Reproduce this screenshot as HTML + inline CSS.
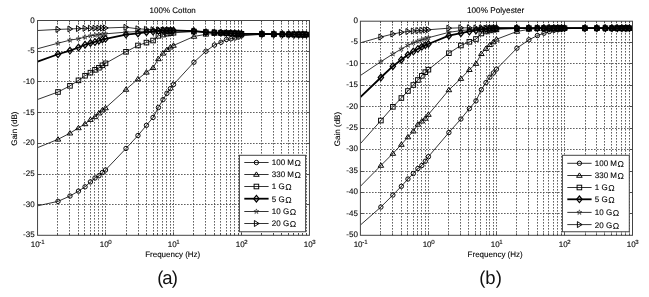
<!DOCTYPE html>
<html><head><meta charset="utf-8"><title>Gain vs Frequency</title>
<style>
html,body{margin:0;padding:0;background:#fff;}
svg{display:block;}
text{font-family:"Liberation Sans",sans-serif;fill:#000;stroke:#000;stroke-width:0.1;text-rendering:geometricPrecision;}
.tl{font-size:8px;}
.tl8{font-size:8px;}
.tl82{font-size:8.2px;}
.ex{font-size:6.1px;}
.om{font-size:8.6px;stroke:none;}
.cap{font-size:18.5px;fill:#111;stroke:none;}
.grid{fill:none;stroke:#444;stroke-width:0.85;stroke-dasharray:1.6 1.4;}
.box{fill:none;stroke:#444;stroke-width:1;}
.tick{fill:none;stroke:#444;stroke-width:0.9;}
.l{fill:none;stroke:#000;stroke-width:0.8;}
.lb{fill:none;stroke:#000;stroke-width:1.8;stroke-linejoin:round;}
.m{fill:none;stroke:#000;stroke-width:0.95;}
.ms{fill:none;stroke:#111;stroke-width:0.55;}
.mb{fill:none;stroke:#000;stroke-width:1.2;}
.leg{fill:#fff;stroke:#444;stroke-width:1;}
</style></head>
<body>
<svg width="649" height="297" viewBox="0 0 649 297">
<rect width="649" height="297" fill="#fff"/>
<clipPath id="cp1"><rect x="37.55" y="20.5" width="271.9" height="214.8"/></clipPath>
<path d="M57.5,20V235.3M69.5,20V235.3M78.5,20V235.3M84.5,20V235.3M90.5,20V235.3M94.5,20V235.3M98.5,20V235.3M102.5,20V235.3M105.5,20V235.3M126.5,20V235.3M138.5,20V235.3M146.5,20V235.3M153.5,20V235.3M157.5,20V235.3M162.5,20V235.3M166.5,20V235.3M170.5,20V235.3M173.5,20V235.3M193.5,20V235.3M205.5,20V235.3M214.5,20V235.3M220.5,20V235.3M226.5,20V235.3M230.5,20V235.3M234.5,20V235.3M238.5,20V235.3M241.5,20V235.3M261.5,20V235.3M273.5,20V235.3M281.5,20V235.3M288.5,20V235.3M293.5,20V235.3M298.5,20V235.3M302.5,20V235.3M306.5,20V235.3M37,51.5H309.45M37,81.5H309.45M37,112.5H309.45M37,143.5H309.45M37,174.5H309.45M37,204.5H309.45" class="grid"/>
<polyline points="37.55,205.84 58.01,201.36 69.98,196.02 78.48,191.11 85.06,186.82 90.44,181.91 95.00,177.98 98.94,175.77 102.41,172.52 105.52,170.00 125.99,148.46 137.96,135.51 146.45,125.32 153.04,117.47 158.42,107.52 162.97,99.67 166.91,93.35 170.39,88.62 173.50,84.51 193.96,62.23 205.93,51.19 214.43,45.05 221.01,42.29 226.39,39.53 230.95,38.79 234.89,37.99 238.36,37.07 241.47,35.84 261.94,34.31 273.91,34.16 282.40,34.27 288.99,34.35 294.37,34.42 298.92,34.48 302.86,34.53 306.34,34.58 309.45,34.62" class="l" clip-path="url(#cp1)"/>
<circle cx="58.01" cy="201.36" r="2.2" class="m"/>
<circle cx="69.98" cy="196.02" r="2.2" class="m"/>
<circle cx="78.48" cy="191.11" r="2.2" class="m"/>
<circle cx="85.06" cy="186.82" r="2.2" class="m"/>
<circle cx="90.44" cy="181.91" r="2.2" class="m"/>
<circle cx="95.00" cy="177.98" r="2.2" class="m"/>
<circle cx="98.94" cy="175.77" r="2.2" class="m"/>
<circle cx="102.41" cy="172.52" r="2.2" class="m"/>
<circle cx="105.52" cy="170.00" r="2.2" class="m"/>
<circle cx="125.99" cy="148.46" r="2.2" class="m"/>
<circle cx="137.96" cy="135.51" r="2.2" class="m"/>
<circle cx="146.45" cy="125.32" r="2.2" class="m"/>
<circle cx="153.04" cy="117.47" r="2.2" class="m"/>
<circle cx="158.42" cy="107.52" r="2.2" class="m"/>
<circle cx="162.97" cy="99.67" r="2.2" class="m"/>
<circle cx="166.91" cy="93.35" r="2.2" class="m"/>
<circle cx="170.39" cy="88.62" r="2.2" class="m"/>
<circle cx="173.50" cy="84.51" r="2.2" class="m"/>
<circle cx="193.96" cy="62.23" r="2.2" class="m"/>
<circle cx="205.93" cy="51.19" r="2.2" class="m"/>
<circle cx="214.43" cy="45.05" r="2.2" class="m"/>
<circle cx="221.01" cy="42.29" r="2.2" class="m"/>
<circle cx="226.39" cy="39.53" r="2.2" class="m"/>
<circle cx="230.95" cy="38.79" r="2.2" class="m"/>
<circle cx="234.89" cy="37.99" r="2.2" class="m"/>
<circle cx="238.36" cy="37.07" r="2.2" class="m"/>
<circle cx="241.47" cy="35.84" r="2.2" class="m"/>
<circle cx="261.94" cy="34.31" r="2.2" class="m"/>
<circle cx="273.91" cy="34.16" r="2.2" class="m"/>
<circle cx="282.40" cy="34.27" r="2.2" class="m"/>
<circle cx="288.99" cy="34.35" r="2.2" class="m"/>
<circle cx="294.37" cy="34.42" r="2.2" class="m"/>
<circle cx="298.92" cy="34.48" r="2.2" class="m"/>
<circle cx="302.86" cy="34.53" r="2.2" class="m"/>
<circle cx="306.34" cy="34.58" r="2.2" class="m"/>
<polyline points="37.55,147.66 58.01,139.32 69.98,133.18 78.48,127.90 85.06,123.91 90.44,119.61 95.00,116.85 98.94,113.17 102.41,110.10 105.52,107.95 125.99,89.48 137.96,78.99 146.45,72.30 153.04,67.76 158.42,58.86 162.97,53.33 166.91,49.65 170.39,47.20 173.50,45.48 193.96,36.46 205.93,34.31 214.43,33.39 221.01,32.86 226.39,33.11 230.95,33.33 234.89,33.51 238.36,33.67 241.47,33.82 261.94,34.00 273.91,34.16 282.40,34.27 288.99,34.35 294.37,34.42 298.92,34.48 302.86,34.53 306.34,34.58 309.45,34.62" class="l" clip-path="url(#cp1)"/>
<path d="M58.01,136.72L60.81,141.12L55.21,141.12Z" class="m"/>
<path d="M69.98,130.58L72.78,134.98L67.18,134.98Z" class="m"/>
<path d="M78.48,125.30L81.28,129.70L75.68,129.70Z" class="m"/>
<path d="M85.06,121.31L87.86,125.71L82.26,125.71Z" class="m"/>
<path d="M90.44,117.01L93.24,121.41L87.64,121.41Z" class="m"/>
<path d="M95.00,114.25L97.80,118.65L92.20,118.65Z" class="m"/>
<path d="M98.94,110.57L101.74,114.97L96.14,114.97Z" class="m"/>
<path d="M102.41,107.50L105.21,111.90L99.61,111.90Z" class="m"/>
<path d="M105.52,105.35L108.32,109.75L102.72,109.75Z" class="m"/>
<path d="M125.99,86.88L128.79,91.28L123.19,91.28Z" class="m"/>
<path d="M137.96,76.39L140.76,80.79L135.16,80.79Z" class="m"/>
<path d="M146.45,69.70L149.25,74.10L143.65,74.10Z" class="m"/>
<path d="M153.04,65.16L155.84,69.56L150.24,69.56Z" class="m"/>
<path d="M158.42,56.26L161.22,60.66L155.62,60.66Z" class="m"/>
<path d="M162.97,50.73L165.77,55.13L160.17,55.13Z" class="m"/>
<path d="M166.91,47.05L169.71,51.45L164.11,51.45Z" class="m"/>
<path d="M170.39,44.60L173.19,49.00L167.59,49.00Z" class="m"/>
<path d="M173.50,42.88L176.30,47.28L170.70,47.28Z" class="m"/>
<path d="M193.96,33.86L196.76,38.26L191.16,38.26Z" class="m"/>
<path d="M205.93,31.71L208.73,36.11L203.13,36.11Z" class="m"/>
<path d="M214.43,30.79L217.23,35.19L211.63,35.19Z" class="m"/>
<path d="M221.01,30.26L223.81,34.66L218.21,34.66Z" class="m"/>
<path d="M226.39,30.51L229.19,34.91L223.59,34.91Z" class="m"/>
<path d="M230.95,30.73L233.75,35.13L228.15,35.13Z" class="m"/>
<path d="M234.89,30.91L237.69,35.31L232.09,35.31Z" class="m"/>
<path d="M238.36,31.07L241.16,35.47L235.56,35.47Z" class="m"/>
<path d="M241.47,31.22L244.27,35.62L238.67,35.62Z" class="m"/>
<path d="M261.94,31.40L264.74,35.80L259.14,35.80Z" class="m"/>
<path d="M273.91,31.56L276.71,35.96L271.11,35.96Z" class="m"/>
<path d="M282.40,31.67L285.20,36.07L279.60,36.07Z" class="m"/>
<path d="M288.99,31.75L291.79,36.15L286.19,36.15Z" class="m"/>
<path d="M294.37,31.82L297.17,36.22L291.57,36.22Z" class="m"/>
<path d="M298.92,31.88L301.72,36.28L296.12,36.28Z" class="m"/>
<path d="M302.86,31.93L305.66,36.33L300.06,36.33Z" class="m"/>
<path d="M306.34,31.98L309.14,36.38L303.54,36.38Z" class="m"/>
<polyline points="37.55,99.49 58.01,92.00 69.98,85.86 78.48,80.34 85.06,75.73 90.44,72.67 95.00,69.84 98.94,67.76 102.41,65.30 105.52,63.34 125.99,51.80 137.96,45.48 146.45,42.59 153.04,40.51 158.42,35.84 162.97,34.62 166.91,33.69 170.39,33.08 173.50,32.77 193.96,31.55 205.93,32.16 214.43,32.56 221.01,32.86 226.39,33.11 230.95,33.33 234.89,33.51 238.36,33.67 241.47,33.82 261.94,34.00 273.91,34.16 282.40,34.27 288.99,34.35 294.37,34.42 298.92,34.48 302.86,34.53 306.34,34.58 309.45,34.62" class="l" clip-path="url(#cp1)"/>
<rect x="55.71" y="89.70" width="4.6" height="4.6" class="m"/>
<rect x="67.68" y="83.56" width="4.6" height="4.6" class="m"/>
<rect x="76.18" y="78.04" width="4.6" height="4.6" class="m"/>
<rect x="82.76" y="73.43" width="4.6" height="4.6" class="m"/>
<rect x="88.14" y="70.37" width="4.6" height="4.6" class="m"/>
<rect x="92.70" y="67.54" width="4.6" height="4.6" class="m"/>
<rect x="96.64" y="65.46" width="4.6" height="4.6" class="m"/>
<rect x="100.11" y="63.00" width="4.6" height="4.6" class="m"/>
<rect x="103.22" y="61.04" width="4.6" height="4.6" class="m"/>
<rect x="123.69" y="49.50" width="4.6" height="4.6" class="m"/>
<rect x="135.66" y="43.18" width="4.6" height="4.6" class="m"/>
<rect x="144.15" y="40.29" width="4.6" height="4.6" class="m"/>
<rect x="150.74" y="38.21" width="4.6" height="4.6" class="m"/>
<rect x="156.12" y="33.54" width="4.6" height="4.6" class="m"/>
<rect x="160.67" y="32.32" width="4.6" height="4.6" class="m"/>
<rect x="164.61" y="31.39" width="4.6" height="4.6" class="m"/>
<rect x="168.09" y="30.78" width="4.6" height="4.6" class="m"/>
<rect x="171.20" y="30.47" width="4.6" height="4.6" class="m"/>
<rect x="191.66" y="29.25" width="4.6" height="4.6" class="m"/>
<rect x="203.63" y="29.86" width="4.6" height="4.6" class="m"/>
<rect x="212.13" y="30.26" width="4.6" height="4.6" class="m"/>
<rect x="218.71" y="30.56" width="4.6" height="4.6" class="m"/>
<rect x="224.09" y="30.81" width="4.6" height="4.6" class="m"/>
<rect x="228.65" y="31.03" width="4.6" height="4.6" class="m"/>
<rect x="232.59" y="31.21" width="4.6" height="4.6" class="m"/>
<rect x="236.06" y="31.37" width="4.6" height="4.6" class="m"/>
<rect x="239.17" y="31.52" width="4.6" height="4.6" class="m"/>
<rect x="259.64" y="31.70" width="4.6" height="4.6" class="m"/>
<rect x="271.61" y="31.86" width="4.6" height="4.6" class="m"/>
<rect x="280.10" y="31.97" width="4.6" height="4.6" class="m"/>
<rect x="286.69" y="32.05" width="4.6" height="4.6" class="m"/>
<rect x="292.07" y="32.12" width="4.6" height="4.6" class="m"/>
<rect x="296.62" y="32.18" width="4.6" height="4.6" class="m"/>
<rect x="300.56" y="32.23" width="4.6" height="4.6" class="m"/>
<rect x="304.04" y="32.28" width="4.6" height="4.6" class="m"/>
<polyline points="37.55,61.62 58.01,54.25 69.98,50.57 78.48,47.50 85.06,44.68 90.44,43.02 95.00,41.98 98.94,40.75 102.41,39.53 105.52,38.79 125.99,34.62 137.96,33.39 146.45,32.16 153.04,31.55 158.42,30.93 162.97,30.50 166.91,30.50 170.39,30.50 173.50,30.50 193.96,31.06 205.93,32.16 214.43,32.56 221.01,32.86 226.39,33.11 230.95,33.33 234.89,33.51 238.36,33.67 241.47,33.82 261.94,34.00 273.91,34.16 282.40,34.27 288.99,34.35 294.37,34.42 298.92,34.48 302.86,34.53 306.34,34.58 309.45,34.62" class="lb" clip-path="url(#cp1)"/>
<path d="M58.01,50.95L60.71,54.25L58.01,57.55L55.31,54.25Z" class="mb"/>
<path d="M69.98,47.27L72.68,50.57L69.98,53.87L67.28,50.57Z" class="mb"/>
<path d="M78.48,44.20L81.18,47.50L78.48,50.80L75.78,47.50Z" class="mb"/>
<path d="M85.06,41.38L87.76,44.68L85.06,47.98L82.36,44.68Z" class="mb"/>
<path d="M90.44,39.72L93.14,43.02L90.44,46.32L87.74,43.02Z" class="mb"/>
<path d="M95.00,38.68L97.70,41.98L95.00,45.28L92.30,41.98Z" class="mb"/>
<path d="M98.94,37.45L101.64,40.75L98.94,44.05L96.24,40.75Z" class="mb"/>
<path d="M102.41,36.23L105.11,39.53L102.41,42.83L99.71,39.53Z" class="mb"/>
<path d="M105.52,35.49L108.22,38.79L105.52,42.09L102.82,38.79Z" class="mb"/>
<path d="M125.99,31.32L128.69,34.62L125.99,37.92L123.29,34.62Z" class="mb"/>
<path d="M137.96,30.09L140.66,33.39L137.96,36.69L135.26,33.39Z" class="mb"/>
<path d="M146.45,28.86L149.15,32.16L146.45,35.46L143.75,32.16Z" class="mb"/>
<path d="M153.04,28.25L155.74,31.55L153.04,34.85L150.34,31.55Z" class="mb"/>
<path d="M158.42,27.63L161.12,30.93L158.42,34.23L155.72,30.93Z" class="mb"/>
<path d="M162.97,27.20L165.67,30.50L162.97,33.80L160.27,30.50Z" class="mb"/>
<path d="M166.91,27.20L169.61,30.50L166.91,33.80L164.21,30.50Z" class="mb"/>
<path d="M170.39,27.20L173.09,30.50L170.39,33.80L167.69,30.50Z" class="mb"/>
<path d="M173.50,27.20L176.20,30.50L173.50,33.80L170.80,30.50Z" class="mb"/>
<path d="M193.96,27.76L196.66,31.06L193.96,34.36L191.26,31.06Z" class="mb"/>
<path d="M205.93,28.86L208.63,32.16L205.93,35.46L203.23,32.16Z" class="mb"/>
<path d="M214.43,29.26L217.13,32.56L214.43,35.86L211.73,32.56Z" class="mb"/>
<path d="M221.01,29.56L223.71,32.86L221.01,36.16L218.31,32.86Z" class="mb"/>
<path d="M226.39,29.81L229.09,33.11L226.39,36.41L223.69,33.11Z" class="mb"/>
<path d="M230.95,30.03L233.65,33.33L230.95,36.63L228.25,33.33Z" class="mb"/>
<path d="M234.89,30.21L237.59,33.51L234.89,36.81L232.19,33.51Z" class="mb"/>
<path d="M238.36,30.37L241.06,33.67L238.36,36.97L235.66,33.67Z" class="mb"/>
<path d="M241.47,30.52L244.17,33.82L241.47,37.12L238.77,33.82Z" class="mb"/>
<path d="M261.94,30.70L264.64,34.00L261.94,37.30L259.24,34.00Z" class="mb"/>
<path d="M273.91,30.86L276.61,34.16L273.91,37.46L271.21,34.16Z" class="mb"/>
<path d="M282.40,30.97L285.10,34.27L282.40,37.57L279.70,34.27Z" class="mb"/>
<path d="M288.99,31.05L291.69,34.35L288.99,37.65L286.29,34.35Z" class="mb"/>
<path d="M294.37,31.12L297.07,34.42L294.37,37.72L291.67,34.42Z" class="mb"/>
<path d="M298.92,31.18L301.62,34.48L298.92,37.78L296.22,34.48Z" class="mb"/>
<path d="M302.86,31.23L305.56,34.53L302.86,37.83L300.16,34.53Z" class="mb"/>
<path d="M306.34,31.28L309.04,34.58L306.34,37.88L303.64,34.58Z" class="mb"/>
<polyline points="37.55,48.73 58.01,43.21 69.98,40.14 78.48,38.79 85.06,37.07 90.44,35.84 95.00,35.23 98.94,34.62 102.41,34.19 105.52,33.82 125.99,32.16 137.96,31.55 146.45,31.06 153.04,30.81 158.42,30.50 162.97,30.50 166.91,30.50 170.39,30.50 173.50,30.50 193.96,31.06 205.93,32.16 214.43,32.56 221.01,32.86 226.39,33.11 230.95,33.33 234.89,33.51 238.36,33.67 241.47,33.82 261.94,34.00 273.91,34.16 282.40,34.27 288.99,34.35 294.37,34.42 298.92,34.48 302.86,34.53 306.34,34.58 309.45,34.62" class="l" clip-path="url(#cp1)"/>
<polygon points="58.01,40.61 58.60,42.40 60.49,42.40 58.96,43.52 59.54,45.31 58.01,44.21 56.48,45.31 57.06,43.52 55.54,42.40 57.42,42.40" class="ms"/>
<polygon points="69.98,37.54 70.57,39.33 72.46,39.34 70.93,40.45 71.51,42.24 69.98,41.14 68.45,42.24 69.03,40.45 67.51,39.34 69.39,39.33" class="ms"/>
<polygon points="78.48,36.19 79.06,37.98 80.95,37.99 79.43,39.10 80.00,40.89 78.48,39.79 76.95,40.89 77.52,39.10 76.00,37.99 77.89,37.98" class="ms"/>
<polygon points="85.06,34.47 85.65,36.26 87.54,36.27 86.01,37.38 86.59,39.17 85.06,38.07 83.53,39.17 84.11,37.38 82.59,36.27 84.47,36.26" class="ms"/>
<polygon points="90.44,33.24 91.03,35.03 92.92,35.04 91.40,36.15 91.97,37.95 90.44,36.84 88.92,37.95 89.49,36.15 87.97,35.04 89.86,35.03" class="ms"/>
<polygon points="95.00,32.63 95.58,34.42 97.47,34.43 95.95,35.54 96.52,37.33 95.00,36.23 93.47,37.33 94.04,35.54 92.52,34.43 94.41,34.42" class="ms"/>
<polygon points="98.94,32.02 99.53,33.81 101.41,33.81 99.89,34.92 100.47,36.72 98.94,35.62 97.41,36.72 97.99,34.92 96.46,33.81 98.35,33.81" class="ms"/>
<polygon points="102.41,31.59 103.00,33.38 104.89,33.38 103.37,34.49 103.94,36.29 102.41,35.19 100.89,36.29 101.46,34.49 99.94,33.38 101.83,33.38" class="ms"/>
<polygon points="105.52,31.22 106.11,33.01 108.00,33.01 106.48,34.13 107.05,35.92 105.52,34.82 104.00,35.92 104.57,34.13 103.05,33.01 104.94,33.01" class="ms"/>
<polygon points="125.99,29.56 126.58,31.35 128.46,31.36 126.94,32.47 127.52,34.26 125.99,33.16 124.46,34.26 125.04,32.47 123.51,31.36 125.40,31.35" class="ms"/>
<polygon points="137.96,28.95 138.55,30.74 140.43,30.74 138.91,31.86 139.49,33.65 137.96,32.55 136.43,33.65 137.01,31.86 135.48,30.74 137.37,30.74" class="ms"/>
<polygon points="146.45,28.46 147.04,30.25 148.92,30.25 147.40,31.36 147.98,33.16 146.45,32.06 144.92,33.16 145.50,31.36 143.98,30.25 145.86,30.25" class="ms"/>
<polygon points="153.04,28.21 153.63,30.00 155.51,30.01 153.99,31.12 154.57,32.91 153.04,31.81 151.51,32.91 152.09,31.12 150.56,30.01 152.45,30.00" class="ms"/>
<polygon points="158.42,27.90 159.01,29.69 160.89,29.70 159.37,30.81 159.95,32.61 158.42,31.50 156.89,32.61 157.47,30.81 155.95,29.70 157.83,29.69" class="ms"/>
<polygon points="162.97,27.90 163.56,29.69 165.44,29.70 163.92,30.81 164.50,32.61 162.97,31.50 161.44,32.61 162.02,30.81 160.50,29.70 162.38,29.69" class="ms"/>
<polygon points="166.91,27.90 167.50,29.69 169.39,29.70 167.86,30.81 168.44,32.61 166.91,31.50 165.38,32.61 165.96,30.81 164.44,29.70 166.32,29.69" class="ms"/>
<polygon points="170.39,27.90 170.98,29.69 172.86,29.70 171.34,30.81 171.92,32.61 170.39,31.50 168.86,32.61 169.44,30.81 167.92,29.70 169.80,29.69" class="ms"/>
<polygon points="173.50,27.90 174.09,29.69 175.97,29.70 174.45,30.81 175.03,32.61 173.50,31.50 171.97,32.61 172.55,30.81 171.03,29.70 172.91,29.69" class="ms"/>
<polygon points="193.96,28.46 194.55,30.25 196.44,30.25 194.91,31.36 195.49,33.16 193.96,32.06 192.43,33.16 193.01,31.36 191.49,30.25 193.37,30.25" class="ms"/>
<polygon points="205.93,29.56 206.52,31.35 208.41,31.36 206.88,32.47 207.46,34.26 205.93,33.16 204.40,34.26 204.98,32.47 203.46,31.36 205.34,31.35" class="ms"/>
<polygon points="214.43,29.96 215.01,31.75 216.90,31.75 215.38,32.87 215.95,34.66 214.43,33.56 212.90,34.66 213.47,32.87 211.95,31.75 213.84,31.75" class="ms"/>
<polygon points="221.01,30.26 221.60,32.05 223.49,32.06 221.96,33.17 222.54,34.97 221.01,33.86 219.48,34.97 220.06,33.17 218.54,32.06 220.42,32.05" class="ms"/>
<polygon points="226.39,30.51 226.98,32.31 228.87,32.31 227.35,33.42 227.92,35.22 226.39,34.11 224.87,35.22 225.44,33.42 223.92,32.31 225.81,32.31" class="ms"/>
<polygon points="230.95,30.73 231.53,32.52 233.42,32.52 231.90,33.64 232.47,35.43 230.95,34.33 229.42,35.43 229.99,33.64 228.47,32.52 230.36,32.52" class="ms"/>
<polygon points="234.89,30.91 235.48,32.70 237.36,32.71 235.84,33.82 236.42,35.61 234.89,34.51 233.36,35.61 233.94,33.82 232.41,32.71 234.30,32.70" class="ms"/>
<polygon points="238.36,31.07 238.95,32.86 240.84,32.87 239.32,33.98 239.89,35.78 238.36,34.67 236.84,35.78 237.41,33.98 235.89,32.87 237.78,32.86" class="ms"/>
<polygon points="241.47,31.22 242.06,33.01 243.95,33.01 242.43,34.13 243.00,35.92 241.47,34.82 239.95,35.92 240.52,34.13 239.00,33.01 240.89,33.01" class="ms"/>
<polygon points="261.94,31.40 262.53,33.19 264.41,33.20 262.89,34.31 263.47,36.11 261.94,35.00 260.41,36.11 260.99,34.31 259.46,33.20 261.35,33.19" class="ms"/>
<polygon points="273.91,31.56 274.50,33.35 276.38,33.35 274.86,34.47 275.44,36.26 273.91,35.16 272.38,36.26 272.96,34.47 271.43,33.35 273.32,33.35" class="ms"/>
<polygon points="282.40,31.67 282.99,33.46 284.87,33.46 283.35,34.58 283.93,36.37 282.40,35.27 280.87,36.37 281.45,34.58 279.93,33.46 281.81,33.46" class="ms"/>
<polygon points="288.99,31.75 289.58,33.54 291.46,33.55 289.94,34.66 290.52,36.45 288.99,35.35 287.46,36.45 288.04,34.66 286.51,33.55 288.40,33.54" class="ms"/>
<polygon points="294.37,31.82 294.96,33.61 296.84,33.62 295.32,34.73 295.90,36.52 294.37,35.42 292.84,36.52 293.42,34.73 291.90,33.62 293.78,33.61" class="ms"/>
<polygon points="298.92,31.88 299.51,33.67 301.39,33.68 299.87,34.79 300.45,36.58 298.92,35.48 297.39,36.58 297.97,34.79 296.45,33.68 298.33,33.67" class="ms"/>
<polygon points="302.86,31.93 303.45,33.72 305.34,33.73 303.81,34.84 304.39,36.63 302.86,35.53 301.33,36.63 301.91,34.84 300.39,33.73 302.27,33.72" class="ms"/>
<polygon points="306.34,31.98 306.93,33.77 308.81,33.77 307.29,34.88 307.87,36.68 306.34,35.58 304.81,36.68 305.39,34.88 303.87,33.77 305.75,33.77" class="ms"/>
<polyline points="37.55,30.50 58.01,29.40 69.98,28.97 78.48,28.60 85.06,28.36 90.44,28.23 95.00,28.17 98.94,28.11 102.41,28.05 105.52,27.99 125.99,27.25 137.96,28.79 146.45,29.34 153.04,29.71 158.42,30.01 162.97,30.20 166.91,30.32 170.39,30.44 173.50,30.50 193.96,31.06 205.93,32.16 214.43,32.56 221.01,32.86 226.39,33.11 230.95,33.33 234.89,33.51 238.36,33.67 241.47,33.82 261.94,34.00 273.91,34.16 282.40,34.27 288.99,34.35 294.37,34.42 298.92,34.48 302.86,34.53 306.34,34.58 309.45,34.62" class="l" clip-path="url(#cp1)"/>
<path d="M56.01,26.40L60.71,29.40L56.01,32.40Z" class="m"/>
<path d="M67.98,25.97L72.68,28.97L67.98,31.97Z" class="m"/>
<path d="M76.48,25.60L81.18,28.60L76.48,31.60Z" class="m"/>
<path d="M83.06,25.36L87.76,28.36L83.06,31.36Z" class="m"/>
<path d="M88.44,25.23L93.14,28.23L88.44,31.23Z" class="m"/>
<path d="M93.00,25.17L97.70,28.17L93.00,31.17Z" class="m"/>
<path d="M96.94,25.11L101.64,28.11L96.94,31.11Z" class="m"/>
<path d="M100.41,25.05L105.11,28.05L100.41,31.05Z" class="m"/>
<path d="M103.52,24.99L108.22,27.99L103.52,30.99Z" class="m"/>
<path d="M123.99,24.25L128.69,27.25L123.99,30.25Z" class="m"/>
<path d="M135.96,25.79L140.66,28.79L135.96,31.79Z" class="m"/>
<path d="M144.45,26.34L149.15,29.34L144.45,32.34Z" class="m"/>
<path d="M151.04,26.71L155.74,29.71L151.04,32.71Z" class="m"/>
<path d="M156.42,27.01L161.12,30.01L156.42,33.01Z" class="m"/>
<path d="M160.97,27.20L165.67,30.20L160.97,33.20Z" class="m"/>
<path d="M164.91,27.32L169.61,30.32L164.91,33.32Z" class="m"/>
<path d="M168.39,27.44L173.09,30.44L168.39,33.44Z" class="m"/>
<path d="M171.50,27.50L176.20,30.50L171.50,33.50Z" class="m"/>
<path d="M191.96,28.06L196.66,31.06L191.96,34.06Z" class="m"/>
<path d="M203.93,29.16L208.63,32.16L203.93,35.16Z" class="m"/>
<path d="M212.43,29.56L217.13,32.56L212.43,35.56Z" class="m"/>
<path d="M219.01,29.86L223.71,32.86L219.01,35.86Z" class="m"/>
<path d="M224.39,30.11L229.09,33.11L224.39,36.11Z" class="m"/>
<path d="M228.95,30.33L233.65,33.33L228.95,36.33Z" class="m"/>
<path d="M232.89,30.51L237.59,33.51L232.89,36.51Z" class="m"/>
<path d="M236.36,30.67L241.06,33.67L236.36,36.67Z" class="m"/>
<path d="M239.47,30.82L244.17,33.82L239.47,36.82Z" class="m"/>
<path d="M259.94,31.00L264.64,34.00L259.94,37.00Z" class="m"/>
<path d="M271.91,31.16L276.61,34.16L271.91,37.16Z" class="m"/>
<path d="M280.40,31.27L285.10,34.27L280.40,37.27Z" class="m"/>
<path d="M286.99,31.35L291.69,34.35L286.99,37.35Z" class="m"/>
<path d="M292.37,31.42L297.07,34.42L292.37,37.42Z" class="m"/>
<path d="M296.92,31.48L301.62,34.48L296.92,37.48Z" class="m"/>
<path d="M300.86,31.53L305.56,34.53L300.86,37.53Z" class="m"/>
<path d="M304.34,31.58L309.04,34.58L304.34,37.58Z" class="m"/>
<rect x="37.55" y="20.5" width="271.9" height="214.8" class="box"/>
<path d="M57.5,235.3v-2.0M57.5,20.5v2.0M69.5,235.3v-2.0M69.5,20.5v2.0M78.5,235.3v-2.0M78.5,20.5v2.0M84.5,235.3v-2.0M84.5,20.5v2.0M90.5,235.3v-2.0M90.5,20.5v2.0M94.5,235.3v-2.0M94.5,20.5v2.0M98.5,235.3v-2.0M98.5,20.5v2.0M102.5,235.3v-2.0M102.5,20.5v2.0M105.5,235.3v-3.0M105.5,20.5v3.0M126.5,235.3v-2.0M126.5,20.5v2.0M138.5,235.3v-2.0M138.5,20.5v2.0M146.5,235.3v-2.0M146.5,20.5v2.0M153.5,235.3v-2.0M153.5,20.5v2.0M157.5,235.3v-2.0M157.5,20.5v2.0M162.5,235.3v-2.0M162.5,20.5v2.0M166.5,235.3v-2.0M166.5,20.5v2.0M170.5,235.3v-2.0M170.5,20.5v2.0M173.5,235.3v-3.0M173.5,20.5v3.0M193.5,235.3v-2.0M193.5,20.5v2.0M205.5,235.3v-2.0M205.5,20.5v2.0M214.5,235.3v-2.0M214.5,20.5v2.0M220.5,235.3v-2.0M220.5,20.5v2.0M226.5,235.3v-2.0M226.5,20.5v2.0M230.5,235.3v-2.0M230.5,20.5v2.0M234.5,235.3v-2.0M234.5,20.5v2.0M238.5,235.3v-2.0M238.5,20.5v2.0M241.5,235.3v-3.0M241.5,20.5v3.0M261.5,235.3v-2.0M261.5,20.5v2.0M273.5,235.3v-2.0M273.5,20.5v2.0M281.5,235.3v-2.0M281.5,20.5v2.0M288.5,235.3v-2.0M288.5,20.5v2.0M293.5,235.3v-2.0M293.5,20.5v2.0M298.5,235.3v-2.0M298.5,20.5v2.0M302.5,235.3v-2.0M302.5,20.5v2.0M306.5,235.3v-2.0M306.5,20.5v2.0M37.55,51.5h3M309.45,51.5h-3M37.55,81.5h3M309.45,81.5h-3M37.55,112.5h3M309.45,112.5h-3M37.55,143.5h3M309.45,143.5h-3M37.55,174.5h3M309.45,174.5h-3M37.55,204.5h3M309.45,204.5h-3" class="tick"/>
<text x="34.65" y="22.50" text-anchor="end" class="tl">0</text>
<text x="34.65" y="53.19" text-anchor="end" class="tl">-5</text>
<text x="34.65" y="83.87" text-anchor="end" class="tl">-10</text>
<text x="34.65" y="114.56" text-anchor="end" class="tl">-15</text>
<text x="34.65" y="145.24" text-anchor="end" class="tl">-20</text>
<text x="34.65" y="175.93" text-anchor="end" class="tl">-25</text>
<text x="34.65" y="206.61" text-anchor="end" class="tl">-30</text>
<text x="34.65" y="237.30" text-anchor="end" class="tl">-35</text>
<text x="30.80" y="247.20" class="tl">10</text>
<text x="39.30" y="243.50" class="ex">-1</text>
<text x="99.77" y="247.20" class="tl">10</text>
<text x="108.27" y="243.50" class="ex">0</text>
<text x="167.75" y="247.20" class="tl">10</text>
<text x="176.25" y="243.50" class="ex">1</text>
<text x="235.72" y="247.20" class="tl">10</text>
<text x="244.22" y="243.50" class="ex">2</text>
<text x="303.70" y="247.20" class="tl">10</text>
<text x="312.20" y="243.50" class="ex">3</text>
<text x="172.70" y="13.3" text-anchor="middle" class="tl8">100% Cotton</text>
<text x="172.70" y="257.40" text-anchor="middle" class="tl8">Frequency (Hz)</text>
<text transform="translate(17.15,128.70) rotate(-90)" text-anchor="middle" class="tl8">Gain (dB)</text>
<rect x="239.4" y="155.3" width="66.20000000000002" height="76.44999999999999" class="leg"/>
<path d="M244.30,162.50H268.60" class="l"/>
<circle cx="256.40" cy="162.50" r="2.2" class="m"/>
<text x="271.80" y="165.45" class="tl8">100 M<tspan class="om" dx="0.5" dy="1.0">Ω</tspan></text>
<path d="M244.30,174.50H268.60" class="l"/>
<path d="M256.40,171.90L259.20,176.30L253.60,176.30Z" class="m"/>
<text x="271.80" y="177.45" class="tl8">330 M<tspan class="om" dx="0.5" dy="1.0">Ω</tspan></text>
<path d="M244.30,186.50H268.60" class="l"/>
<rect x="254.10" y="184.20" width="4.6" height="4.6" class="m"/>
<text x="271.80" y="189.45" class="tl8">1 G<tspan class="om" dx="0.5" dy="1.0">Ω</tspan></text>
<path d="M244.30,198.70H268.60" class="lb"/>
<path d="M256.40,195.40L259.10,198.70L256.40,202.00L253.70,198.70Z" class="mb"/>
<text x="271.80" y="201.65" class="tl8">5 G<tspan class="om" dx="0.5" dy="1.0">Ω</tspan></text>
<path d="M244.30,211.50H268.60" class="l"/>
<polygon points="256.40,208.90 256.99,210.69 258.87,210.70 257.35,211.81 257.93,213.60 256.40,212.50 254.87,213.60 255.45,211.81 253.93,210.70 255.81,210.69" class="ms"/>
<text x="271.80" y="214.45" class="tl8">10 G<tspan class="om" dx="0.5" dy="1.0">Ω</tspan></text>
<path d="M244.30,223.50H268.60" class="l"/>
<path d="M254.40,220.50L259.10,223.50L254.40,226.50Z" class="m"/>
<text x="271.80" y="226.45" class="tl8">20 G<tspan class="om" dx="0.5" dy="1.0">Ω</tspan></text>
<clipPath id="cp2"><rect x="360.4" y="21.2" width="272.1" height="214.10000000000002"/></clipPath>
<path d="M380.5,21V235.3M392.5,21V235.3M401.5,21V235.3M407.5,21V235.3M413.5,21V235.3M417.5,21V235.3M421.5,21V235.3M425.5,21V235.3M428.5,21V235.3M448.5,21V235.3M460.5,21V235.3M468.5,21V235.3M475.5,21V235.3M480.5,21V235.3M486.5,21V235.3M489.5,21V235.3M493.5,21V235.3M496.5,21V235.3M516.5,21V235.3M528.5,21V235.3M537.5,21V235.3M543.5,21V235.3M548.5,21V235.3M553.5,21V235.3M557.5,21V235.3M561.5,21V235.3M564.5,21V235.3M585.5,21V235.3M596.5,21V235.3M604.5,21V235.3M611.5,21V235.3M616.5,21V235.3M621.5,21V235.3M625.5,21V235.3M629.5,21V235.3M360,42.5H632.5M360,63.5H632.5M360,85.5H632.5M360,106.5H632.5M360,128.5H632.5M360,149.5H632.5M360,171.5H632.5M360,192.5H632.5M360,213.5H632.5" class="grid"/>
<polyline points="360.40,225.02 380.88,207.04 392.86,195.05 401.36,186.31 407.95,178.99 413.33,173.51 417.89,168.50 421.83,165.50 425.31,161.22 428.42,156.68 448.90,132.53 460.88,119.00 469.38,108.55 475.97,100.85 481.36,89.71 485.91,82.65 489.86,77.17 493.34,73.01 496.45,69.16 516.93,48.18 528.91,39.83 537.41,35.54 544.00,33.19 549.38,31.48 553.94,30.32 557.88,29.76 561.36,29.12 564.48,28.69 584.95,28.18 596.93,28.18 605.43,28.18 612.02,28.18 617.41,28.18 621.96,28.18 625.91,28.18 629.39,28.18 632.50,28.18" class="l" clip-path="url(#cp2)"/>
<circle cx="380.88" cy="207.04" r="2.2" class="m"/>
<circle cx="392.86" cy="195.05" r="2.2" class="m"/>
<circle cx="401.36" cy="186.31" r="2.2" class="m"/>
<circle cx="407.95" cy="178.99" r="2.2" class="m"/>
<circle cx="413.33" cy="173.51" r="2.2" class="m"/>
<circle cx="417.89" cy="168.50" r="2.2" class="m"/>
<circle cx="421.83" cy="165.50" r="2.2" class="m"/>
<circle cx="425.31" cy="161.22" r="2.2" class="m"/>
<circle cx="428.42" cy="156.68" r="2.2" class="m"/>
<circle cx="448.90" cy="132.53" r="2.2" class="m"/>
<circle cx="460.88" cy="119.00" r="2.2" class="m"/>
<circle cx="469.38" cy="108.55" r="2.2" class="m"/>
<circle cx="475.97" cy="100.85" r="2.2" class="m"/>
<circle cx="481.36" cy="89.71" r="2.2" class="m"/>
<circle cx="485.91" cy="82.65" r="2.2" class="m"/>
<circle cx="489.86" cy="77.17" r="2.2" class="m"/>
<circle cx="493.34" cy="73.01" r="2.2" class="m"/>
<circle cx="496.45" cy="69.16" r="2.2" class="m"/>
<circle cx="516.93" cy="48.18" r="2.2" class="m"/>
<circle cx="528.91" cy="39.83" r="2.2" class="m"/>
<circle cx="537.41" cy="35.54" r="2.2" class="m"/>
<circle cx="544.00" cy="33.19" r="2.2" class="m"/>
<circle cx="549.38" cy="31.48" r="2.2" class="m"/>
<circle cx="553.94" cy="30.32" r="2.2" class="m"/>
<circle cx="557.88" cy="29.76" r="2.2" class="m"/>
<circle cx="561.36" cy="29.12" r="2.2" class="m"/>
<circle cx="564.48" cy="28.69" r="2.2" class="m"/>
<circle cx="584.95" cy="28.18" r="2.2" class="m"/>
<circle cx="596.93" cy="28.18" r="2.2" class="m"/>
<circle cx="605.43" cy="28.18" r="2.2" class="m"/>
<circle cx="612.02" cy="28.18" r="2.2" class="m"/>
<circle cx="617.41" cy="28.18" r="2.2" class="m"/>
<circle cx="621.96" cy="28.18" r="2.2" class="m"/>
<circle cx="625.91" cy="28.18" r="2.2" class="m"/>
<circle cx="629.39" cy="28.18" r="2.2" class="m"/>
<polyline points="360.40,186.31 380.88,165.50 392.86,153.51 401.36,144.52 407.95,136.99 413.33,131.16 417.89,124.40 421.83,121.18 425.31,118.40 428.42,114.55 448.90,89.93 460.88,78.58 469.38,69.67 475.97,63.59 481.36,53.74 485.91,48.60 489.86,44.75 493.34,42.01 496.45,39.31 516.93,31.48 528.91,29.34 537.41,28.69 544.00,28.18 549.38,28.18 553.94,28.18 557.88,28.18 561.36,28.18 564.48,28.18 584.95,28.18 596.93,28.18 605.43,28.18 612.02,28.18 617.41,28.18 621.96,28.18 625.91,28.18 629.39,28.18 632.50,28.18" class="l" clip-path="url(#cp2)"/>
<path d="M380.88,162.90L383.68,167.30L378.08,167.30Z" class="m"/>
<path d="M392.86,150.91L395.66,155.31L390.06,155.31Z" class="m"/>
<path d="M401.36,141.92L404.16,146.32L398.56,146.32Z" class="m"/>
<path d="M407.95,134.39L410.75,138.79L405.15,138.79Z" class="m"/>
<path d="M413.33,128.56L416.13,132.96L410.53,132.96Z" class="m"/>
<path d="M417.89,121.80L420.69,126.20L415.09,126.20Z" class="m"/>
<path d="M421.83,118.58L424.63,122.98L419.03,122.98Z" class="m"/>
<path d="M425.31,115.80L428.11,120.20L422.51,120.20Z" class="m"/>
<path d="M428.42,111.95L431.22,116.35L425.62,116.35Z" class="m"/>
<path d="M448.90,87.33L451.70,91.73L446.10,91.73Z" class="m"/>
<path d="M460.88,75.98L463.68,80.38L458.08,80.38Z" class="m"/>
<path d="M469.38,67.07L472.18,71.47L466.58,71.47Z" class="m"/>
<path d="M475.97,60.99L478.77,65.39L473.17,65.39Z" class="m"/>
<path d="M481.36,51.14L484.16,55.54L478.56,55.54Z" class="m"/>
<path d="M485.91,46.00L488.71,50.40L483.11,50.40Z" class="m"/>
<path d="M489.86,42.15L492.66,46.55L487.06,46.55Z" class="m"/>
<path d="M493.34,39.41L496.14,43.81L490.54,43.81Z" class="m"/>
<path d="M496.45,36.71L499.25,41.11L493.65,41.11Z" class="m"/>
<path d="M516.93,28.88L519.73,33.28L514.13,33.28Z" class="m"/>
<path d="M528.91,26.74L531.71,31.14L526.11,31.14Z" class="m"/>
<path d="M537.41,26.09L540.21,30.49L534.61,30.49Z" class="m"/>
<path d="M544.00,25.58L546.80,29.98L541.20,29.98Z" class="m"/>
<path d="M549.38,25.58L552.18,29.98L546.58,29.98Z" class="m"/>
<path d="M553.94,25.58L556.74,29.98L551.14,29.98Z" class="m"/>
<path d="M557.88,25.58L560.68,29.98L555.08,29.98Z" class="m"/>
<path d="M561.36,25.58L564.16,29.98L558.56,29.98Z" class="m"/>
<path d="M564.48,25.58L567.27,29.98L561.68,29.98Z" class="m"/>
<path d="M584.95,25.58L587.75,29.98L582.15,29.98Z" class="m"/>
<path d="M596.93,25.58L599.73,29.98L594.13,29.98Z" class="m"/>
<path d="M605.43,25.58L608.23,29.98L602.63,29.98Z" class="m"/>
<path d="M612.02,25.58L614.82,29.98L609.22,29.98Z" class="m"/>
<path d="M617.41,25.58L620.21,29.98L614.61,29.98Z" class="m"/>
<path d="M621.96,25.58L624.76,29.98L619.16,29.98Z" class="m"/>
<path d="M625.91,25.58L628.71,29.98L623.11,29.98Z" class="m"/>
<path d="M629.39,25.58L632.19,29.98L626.59,29.98Z" class="m"/>
<polyline points="360.40,143.67 380.88,120.54 392.86,106.84 401.36,98.02 407.95,91.00 413.33,85.00 417.89,79.99 421.83,75.84 425.31,72.16 428.42,69.67 448.90,53.19 460.88,45.48 469.38,41.84 475.97,39.01 481.36,33.49 485.91,31.48 489.86,30.41 493.34,29.76 496.45,29.34 516.93,28.48 528.91,28.18 537.41,28.18 544.00,28.18 549.38,28.18 553.94,28.18 557.88,28.18 561.36,28.18 564.48,28.18 584.95,28.18 596.93,28.18 605.43,28.18 612.02,28.18 617.41,28.18 621.96,28.18 625.91,28.18 629.39,28.18 632.50,28.18" class="l" clip-path="url(#cp2)"/>
<rect x="378.58" y="118.24" width="4.6" height="4.6" class="m"/>
<rect x="390.56" y="104.54" width="4.6" height="4.6" class="m"/>
<rect x="399.06" y="95.72" width="4.6" height="4.6" class="m"/>
<rect x="405.65" y="88.70" width="4.6" height="4.6" class="m"/>
<rect x="411.03" y="82.70" width="4.6" height="4.6" class="m"/>
<rect x="415.59" y="77.69" width="4.6" height="4.6" class="m"/>
<rect x="419.53" y="73.54" width="4.6" height="4.6" class="m"/>
<rect x="423.01" y="69.86" width="4.6" height="4.6" class="m"/>
<rect x="426.12" y="67.37" width="4.6" height="4.6" class="m"/>
<rect x="446.60" y="50.89" width="4.6" height="4.6" class="m"/>
<rect x="458.58" y="43.18" width="4.6" height="4.6" class="m"/>
<rect x="467.08" y="39.54" width="4.6" height="4.6" class="m"/>
<rect x="473.67" y="36.71" width="4.6" height="4.6" class="m"/>
<rect x="479.06" y="31.19" width="4.6" height="4.6" class="m"/>
<rect x="483.61" y="29.18" width="4.6" height="4.6" class="m"/>
<rect x="487.56" y="28.11" width="4.6" height="4.6" class="m"/>
<rect x="491.04" y="27.46" width="4.6" height="4.6" class="m"/>
<rect x="494.15" y="27.04" width="4.6" height="4.6" class="m"/>
<rect x="514.63" y="26.18" width="4.6" height="4.6" class="m"/>
<rect x="526.61" y="25.88" width="4.6" height="4.6" class="m"/>
<rect x="535.11" y="25.88" width="4.6" height="4.6" class="m"/>
<rect x="541.70" y="25.88" width="4.6" height="4.6" class="m"/>
<rect x="547.08" y="25.88" width="4.6" height="4.6" class="m"/>
<rect x="551.64" y="25.88" width="4.6" height="4.6" class="m"/>
<rect x="555.58" y="25.88" width="4.6" height="4.6" class="m"/>
<rect x="559.06" y="25.88" width="4.6" height="4.6" class="m"/>
<rect x="562.18" y="25.88" width="4.6" height="4.6" class="m"/>
<rect x="582.65" y="25.88" width="4.6" height="4.6" class="m"/>
<rect x="594.63" y="25.88" width="4.6" height="4.6" class="m"/>
<rect x="603.13" y="25.88" width="4.6" height="4.6" class="m"/>
<rect x="609.72" y="25.88" width="4.6" height="4.6" class="m"/>
<rect x="615.11" y="25.88" width="4.6" height="4.6" class="m"/>
<rect x="619.66" y="25.88" width="4.6" height="4.6" class="m"/>
<rect x="623.61" y="25.88" width="4.6" height="4.6" class="m"/>
<rect x="627.09" y="25.88" width="4.6" height="4.6" class="m"/>
<polyline points="360.40,97.21 380.88,77.51 392.86,66.16 401.36,59.74 407.95,54.81 413.33,51.52 417.89,49.03 421.83,46.81 425.31,45.18 428.42,43.98 448.90,35.67 460.88,33.19 469.38,31.48 475.97,30.41 481.36,29.34 485.91,28.91 489.86,28.57 493.34,28.35 496.45,28.18 516.93,28.18 528.91,28.18 537.41,28.18 544.00,28.18 549.38,28.18 553.94,28.18 557.88,28.18 561.36,28.18 564.48,28.18 584.95,28.18 596.93,28.18 605.43,28.18 612.02,28.18 617.41,28.18 621.96,28.18 625.91,28.18 629.39,28.18 632.50,28.18" class="lb" clip-path="url(#cp2)"/>
<path d="M380.88,74.21L383.58,77.51L380.88,80.81L378.18,77.51Z" class="mb"/>
<path d="M392.86,62.86L395.56,66.16L392.86,69.46L390.16,66.16Z" class="mb"/>
<path d="M401.36,56.44L404.06,59.74L401.36,63.04L398.66,59.74Z" class="mb"/>
<path d="M407.95,51.51L410.65,54.81L407.95,58.11L405.25,54.81Z" class="mb"/>
<path d="M413.33,48.22L416.03,51.52L413.33,54.82L410.63,51.52Z" class="mb"/>
<path d="M417.89,45.73L420.59,49.03L417.89,52.33L415.19,49.03Z" class="mb"/>
<path d="M421.83,43.51L424.53,46.81L421.83,50.11L419.13,46.81Z" class="mb"/>
<path d="M425.31,41.88L428.01,45.18L425.31,48.48L422.61,45.18Z" class="mb"/>
<path d="M428.42,40.68L431.12,43.98L428.42,47.28L425.72,43.98Z" class="mb"/>
<path d="M448.90,32.37L451.60,35.67L448.90,38.97L446.20,35.67Z" class="mb"/>
<path d="M460.88,29.89L463.58,33.19L460.88,36.49L458.18,33.19Z" class="mb"/>
<path d="M469.38,28.18L472.08,31.48L469.38,34.78L466.68,31.48Z" class="mb"/>
<path d="M475.97,27.11L478.67,30.41L475.97,33.71L473.27,30.41Z" class="mb"/>
<path d="M481.36,26.04L484.06,29.34L481.36,32.64L478.66,29.34Z" class="mb"/>
<path d="M485.91,25.61L488.61,28.91L485.91,32.21L483.21,28.91Z" class="mb"/>
<path d="M489.86,25.27L492.56,28.57L489.86,31.87L487.16,28.57Z" class="mb"/>
<path d="M493.34,25.05L496.04,28.35L493.34,31.65L490.64,28.35Z" class="mb"/>
<path d="M496.45,24.88L499.15,28.18L496.45,31.48L493.75,28.18Z" class="mb"/>
<path d="M516.93,24.88L519.63,28.18L516.93,31.48L514.23,28.18Z" class="mb"/>
<path d="M528.91,24.88L531.61,28.18L528.91,31.48L526.21,28.18Z" class="mb"/>
<path d="M537.41,24.88L540.11,28.18L537.41,31.48L534.71,28.18Z" class="mb"/>
<path d="M544.00,24.88L546.70,28.18L544.00,31.48L541.30,28.18Z" class="mb"/>
<path d="M549.38,24.88L552.08,28.18L549.38,31.48L546.68,28.18Z" class="mb"/>
<path d="M553.94,24.88L556.64,28.18L553.94,31.48L551.24,28.18Z" class="mb"/>
<path d="M557.88,24.88L560.58,28.18L557.88,31.48L555.18,28.18Z" class="mb"/>
<path d="M561.36,24.88L564.06,28.18L561.36,31.48L558.66,28.18Z" class="mb"/>
<path d="M564.48,24.88L567.18,28.18L564.48,31.48L561.77,28.18Z" class="mb"/>
<path d="M584.95,24.88L587.65,28.18L584.95,31.48L582.25,28.18Z" class="mb"/>
<path d="M596.93,24.88L599.63,28.18L596.93,31.48L594.23,28.18Z" class="mb"/>
<path d="M605.43,24.88L608.13,28.18L605.43,31.48L602.73,28.18Z" class="mb"/>
<path d="M612.02,24.88L614.72,28.18L612.02,31.48L609.32,28.18Z" class="mb"/>
<path d="M617.41,24.88L620.11,28.18L617.41,31.48L614.71,28.18Z" class="mb"/>
<path d="M621.96,24.88L624.66,28.18L621.96,31.48L619.26,28.18Z" class="mb"/>
<path d="M625.91,24.88L628.61,28.18L625.91,31.48L623.21,28.18Z" class="mb"/>
<path d="M629.39,24.88L632.09,28.18L629.39,31.48L626.69,28.18Z" class="mb"/>
<polyline points="360.40,75.50 380.88,61.66 392.86,54.00 401.36,49.03 407.95,45.18 413.33,42.82 417.89,41.15 421.83,39.83 425.31,38.67 428.42,37.69 448.90,32.33 460.88,30.62 469.38,29.76 475.97,29.12 481.36,28.69 485.91,28.48 489.86,28.18 493.34,28.18 496.45,28.18 516.93,28.18 528.91,28.18 537.41,28.18 544.00,28.18 549.38,28.18 553.94,28.18 557.88,28.18 561.36,28.18 564.48,28.18 584.95,28.18 596.93,28.18 605.43,28.18 612.02,28.18 617.41,28.18 621.96,28.18 625.91,28.18 629.39,28.18 632.50,28.18" class="l" clip-path="url(#cp2)"/>
<polygon points="380.88,59.06 381.47,60.86 383.35,60.86 381.83,61.97 382.41,63.77 380.88,62.66 379.35,63.77 379.93,61.97 378.40,60.86 380.29,60.86" class="ms"/>
<polygon points="392.86,51.40 393.44,53.19 395.33,53.20 393.81,54.31 394.38,56.10 392.86,55.00 391.33,56.10 391.91,54.31 390.38,53.20 392.27,53.19" class="ms"/>
<polygon points="401.36,46.43 401.94,48.22 403.83,48.23 402.31,49.34 402.88,51.14 401.36,50.03 399.83,51.14 400.40,49.34 398.88,48.23 400.77,48.22" class="ms"/>
<polygon points="407.95,42.58 408.54,44.37 410.42,44.38 408.90,45.49 409.48,47.28 407.95,46.18 406.42,47.28 407.00,45.49 405.47,44.38 407.36,44.37" class="ms"/>
<polygon points="413.33,40.22 413.92,42.02 415.81,42.02 414.28,43.13 414.86,44.93 413.33,43.82 411.81,44.93 412.38,43.13 410.86,42.02 412.75,42.02" class="ms"/>
<polygon points="417.89,38.55 418.48,40.35 420.36,40.35 418.84,41.46 419.42,43.26 417.89,42.15 416.36,43.26 416.94,41.46 415.42,40.35 417.30,40.35" class="ms"/>
<polygon points="421.83,37.23 422.42,39.02 424.31,39.02 422.78,40.14 423.36,41.93 421.83,40.83 420.30,41.93 420.88,40.14 419.36,39.02 421.24,39.02" class="ms"/>
<polygon points="425.31,36.07 425.90,37.86 427.79,37.87 426.26,38.98 426.84,40.77 425.31,39.67 423.78,40.77 424.36,38.98 422.84,37.87 424.72,37.86" class="ms"/>
<polygon points="428.42,35.09 429.01,36.88 430.90,36.88 429.38,37.99 429.95,39.79 428.42,38.69 426.90,39.79 427.47,37.99 425.95,36.88 427.84,36.88" class="ms"/>
<polygon points="448.90,29.73 449.49,31.52 451.38,31.53 449.85,32.64 450.43,34.44 448.90,33.33 447.37,34.44 447.95,32.64 446.43,31.53 448.31,31.52" class="ms"/>
<polygon points="460.88,28.02 461.47,29.81 463.35,29.82 461.83,30.93 462.41,32.72 460.88,31.62 459.35,32.72 459.93,30.93 458.41,29.82 460.29,29.81" class="ms"/>
<polygon points="469.38,27.16 469.97,28.95 471.85,28.96 470.33,30.07 470.91,31.87 469.38,30.76 467.85,31.87 468.43,30.07 466.91,28.96 468.79,28.95" class="ms"/>
<polygon points="475.97,26.52 476.56,28.31 478.45,28.32 476.92,29.43 477.50,31.23 475.97,30.12 474.44,31.23 475.02,29.43 473.50,28.32 475.38,28.31" class="ms"/>
<polygon points="481.36,26.09 481.95,27.88 483.83,27.89 482.31,29.00 482.89,30.80 481.36,29.69 479.83,30.80 480.41,29.00 478.89,27.89 480.77,27.88" class="ms"/>
<polygon points="485.91,25.88 486.50,27.67 488.39,27.68 486.86,28.79 487.44,30.58 485.91,29.48 484.38,30.58 484.96,28.79 483.44,27.68 485.33,27.67" class="ms"/>
<polygon points="489.86,25.58 490.45,27.37 492.33,27.38 490.81,28.49 491.39,30.28 489.86,29.18 488.33,30.28 488.91,28.49 487.38,27.38 489.27,27.37" class="ms"/>
<polygon points="493.34,25.58 493.93,27.37 495.81,27.38 494.29,28.49 494.87,30.28 493.34,29.18 491.81,30.28 492.39,28.49 490.86,27.38 492.75,27.37" class="ms"/>
<polygon points="496.45,25.58 497.04,27.37 498.92,27.38 497.40,28.49 497.98,30.28 496.45,29.18 494.92,30.28 495.50,28.49 493.98,27.38 495.86,27.37" class="ms"/>
<polygon points="516.93,25.58 517.52,27.37 519.40,27.38 517.88,28.49 518.46,30.28 516.93,29.18 515.40,30.28 515.98,28.49 514.45,27.38 516.34,27.37" class="ms"/>
<polygon points="528.91,25.58 529.49,27.37 531.38,27.38 529.86,28.49 530.43,30.28 528.91,29.18 527.38,30.28 527.96,28.49 526.43,27.38 528.32,27.37" class="ms"/>
<polygon points="537.41,25.58 537.99,27.37 539.88,27.38 538.36,28.49 538.93,30.28 537.41,29.18 535.88,30.28 536.45,28.49 534.93,27.38 536.82,27.37" class="ms"/>
<polygon points="544.00,25.58 544.59,27.37 546.47,27.38 544.95,28.49 545.53,30.28 544.00,29.18 542.47,30.28 543.05,28.49 541.52,27.38 543.41,27.37" class="ms"/>
<polygon points="549.38,25.58 549.97,27.37 551.86,27.38 550.33,28.49 550.91,30.28 549.38,29.18 547.86,30.28 548.43,28.49 546.91,27.38 548.80,27.37" class="ms"/>
<polygon points="553.94,25.58 554.53,27.37 556.41,27.38 554.89,28.49 555.47,30.28 553.94,29.18 552.41,30.28 552.99,28.49 551.47,27.38 553.35,27.37" class="ms"/>
<polygon points="557.88,25.58 558.47,27.37 560.36,27.38 558.83,28.49 559.41,30.28 557.88,29.18 556.35,30.28 556.93,28.49 555.41,27.38 557.29,27.37" class="ms"/>
<polygon points="561.36,25.58 561.95,27.37 563.84,27.38 562.31,28.49 562.89,30.28 561.36,29.18 559.83,30.28 560.41,28.49 558.89,27.38 560.77,27.37" class="ms"/>
<polygon points="564.48,25.58 565.06,27.37 566.95,27.38 565.43,28.49 566.00,30.28 564.48,29.18 562.95,30.28 563.52,28.49 562.00,27.38 563.89,27.37" class="ms"/>
<polygon points="584.95,25.58 585.54,27.37 587.43,27.38 585.90,28.49 586.48,30.28 584.95,29.18 583.42,30.28 584.00,28.49 582.48,27.38 584.36,27.37" class="ms"/>
<polygon points="596.93,25.58 597.52,27.37 599.40,27.38 597.88,28.49 598.46,30.28 596.93,29.18 595.40,30.28 595.98,28.49 594.46,27.38 596.34,27.37" class="ms"/>
<polygon points="605.43,25.58 606.02,27.37 607.90,27.38 606.38,28.49 606.96,30.28 605.43,29.18 603.90,30.28 604.48,28.49 602.96,27.38 604.84,27.37" class="ms"/>
<polygon points="612.02,25.58 612.61,27.37 614.50,27.38 612.97,28.49 613.55,30.28 612.02,29.18 610.49,30.28 611.07,28.49 609.55,27.38 611.43,27.37" class="ms"/>
<polygon points="617.41,25.58 618.00,27.37 619.88,27.38 618.36,28.49 618.94,30.28 617.41,29.18 615.88,30.28 616.46,28.49 614.94,27.38 616.82,27.37" class="ms"/>
<polygon points="621.96,25.58 622.55,27.37 624.44,27.38 622.91,28.49 623.49,30.28 621.96,29.18 620.43,30.28 621.01,28.49 619.49,27.38 621.38,27.37" class="ms"/>
<polygon points="625.91,25.58 626.50,27.37 628.38,27.38 626.86,28.49 627.44,30.28 625.91,29.18 624.38,30.28 624.96,28.49 623.43,27.38 625.32,27.37" class="ms"/>
<polygon points="629.39,25.58 629.98,27.37 631.86,27.38 630.34,28.49 630.92,30.28 629.39,29.18 627.86,30.28 628.44,28.49 626.91,27.38 628.80,27.37" class="ms"/>
<polyline points="360.40,42.82 380.88,37.00 392.86,34.00 401.36,32.33 407.95,31.48 413.33,31.01 417.89,30.62 421.83,30.32 425.31,29.98 428.42,29.76 448.90,28.18 460.88,27.84 469.38,27.84 475.97,27.97 481.36,28.05 485.91,28.18 489.86,28.18 493.34,28.18 496.45,28.18 516.93,28.18 528.91,28.18 537.41,28.18 544.00,28.18 549.38,28.18 553.94,28.18 557.88,28.18 561.36,28.18 564.48,28.18 584.95,28.18 596.93,28.18 605.43,28.18 612.02,28.18 617.41,28.18 621.96,28.18 625.91,28.18 629.39,28.18 632.50,28.18" class="l" clip-path="url(#cp2)"/>
<path d="M378.88,34.00L383.58,37.00L378.88,40.00Z" class="m"/>
<path d="M390.86,31.00L395.56,34.00L390.86,37.00Z" class="m"/>
<path d="M399.36,29.33L404.06,32.33L399.36,35.33Z" class="m"/>
<path d="M405.95,28.48L410.65,31.48L405.95,34.48Z" class="m"/>
<path d="M411.33,28.01L416.03,31.01L411.33,34.01Z" class="m"/>
<path d="M415.89,27.62L420.59,30.62L415.89,33.62Z" class="m"/>
<path d="M419.83,27.32L424.53,30.32L419.83,33.32Z" class="m"/>
<path d="M423.31,26.98L428.01,29.98L423.31,32.98Z" class="m"/>
<path d="M426.42,26.76L431.12,29.76L426.42,32.76Z" class="m"/>
<path d="M446.90,25.18L451.60,28.18L446.90,31.18Z" class="m"/>
<path d="M458.88,24.84L463.58,27.84L458.88,30.84Z" class="m"/>
<path d="M467.38,24.84L472.08,27.84L467.38,30.84Z" class="m"/>
<path d="M473.97,24.97L478.67,27.97L473.97,30.97Z" class="m"/>
<path d="M479.36,25.05L484.06,28.05L479.36,31.05Z" class="m"/>
<path d="M483.91,25.18L488.61,28.18L483.91,31.18Z" class="m"/>
<path d="M487.86,25.18L492.56,28.18L487.86,31.18Z" class="m"/>
<path d="M491.34,25.18L496.04,28.18L491.34,31.18Z" class="m"/>
<path d="M494.45,25.18L499.15,28.18L494.45,31.18Z" class="m"/>
<path d="M514.93,25.18L519.63,28.18L514.93,31.18Z" class="m"/>
<path d="M526.91,25.18L531.61,28.18L526.91,31.18Z" class="m"/>
<path d="M535.41,25.18L540.11,28.18L535.41,31.18Z" class="m"/>
<path d="M542.00,25.18L546.70,28.18L542.00,31.18Z" class="m"/>
<path d="M547.38,25.18L552.08,28.18L547.38,31.18Z" class="m"/>
<path d="M551.94,25.18L556.64,28.18L551.94,31.18Z" class="m"/>
<path d="M555.88,25.18L560.58,28.18L555.88,31.18Z" class="m"/>
<path d="M559.36,25.18L564.06,28.18L559.36,31.18Z" class="m"/>
<path d="M562.48,25.18L567.18,28.18L562.48,31.18Z" class="m"/>
<path d="M582.95,25.18L587.65,28.18L582.95,31.18Z" class="m"/>
<path d="M594.93,25.18L599.63,28.18L594.93,31.18Z" class="m"/>
<path d="M603.43,25.18L608.13,28.18L603.43,31.18Z" class="m"/>
<path d="M610.02,25.18L614.72,28.18L610.02,31.18Z" class="m"/>
<path d="M615.41,25.18L620.11,28.18L615.41,31.18Z" class="m"/>
<path d="M619.96,25.18L624.66,28.18L619.96,31.18Z" class="m"/>
<path d="M623.91,25.18L628.61,28.18L623.91,31.18Z" class="m"/>
<path d="M627.39,25.18L632.09,28.18L627.39,31.18Z" class="m"/>
<rect x="360.4" y="21.2" width="272.1" height="214.10000000000002" class="box"/>
<path d="M380.5,235.3v-2.0M380.5,21.2v2.0M392.5,235.3v-2.0M392.5,21.2v2.0M401.5,235.3v-2.0M401.5,21.2v2.0M407.5,235.3v-2.0M407.5,21.2v2.0M413.5,235.3v-2.0M413.5,21.2v2.0M417.5,235.3v-2.0M417.5,21.2v2.0M421.5,235.3v-2.0M421.5,21.2v2.0M425.5,235.3v-2.0M425.5,21.2v2.0M428.5,235.3v-3.0M428.5,21.2v3.0M448.5,235.3v-2.0M448.5,21.2v2.0M460.5,235.3v-2.0M460.5,21.2v2.0M468.5,235.3v-2.0M468.5,21.2v2.0M475.5,235.3v-2.0M475.5,21.2v2.0M480.5,235.3v-2.0M480.5,21.2v2.0M486.5,235.3v-2.0M486.5,21.2v2.0M489.5,235.3v-2.0M489.5,21.2v2.0M493.5,235.3v-2.0M493.5,21.2v2.0M496.5,235.3v-3.0M496.5,21.2v3.0M516.5,235.3v-2.0M516.5,21.2v2.0M528.5,235.3v-2.0M528.5,21.2v2.0M537.5,235.3v-2.0M537.5,21.2v2.0M543.5,235.3v-2.0M543.5,21.2v2.0M548.5,235.3v-2.0M548.5,21.2v2.0M553.5,235.3v-2.0M553.5,21.2v2.0M557.5,235.3v-2.0M557.5,21.2v2.0M561.5,235.3v-2.0M561.5,21.2v2.0M564.5,235.3v-3.0M564.5,21.2v3.0M585.5,235.3v-2.0M585.5,21.2v2.0M596.5,235.3v-2.0M596.5,21.2v2.0M604.5,235.3v-2.0M604.5,21.2v2.0M611.5,235.3v-2.0M611.5,21.2v2.0M616.5,235.3v-2.0M616.5,21.2v2.0M621.5,235.3v-2.0M621.5,21.2v2.0M625.5,235.3v-2.0M625.5,21.2v2.0M629.5,235.3v-2.0M629.5,21.2v2.0M360.4,42.5h3M632.5,42.5h-3M360.4,63.5h3M632.5,63.5h-3M360.4,85.5h3M632.5,85.5h-3M360.4,106.5h3M632.5,106.5h-3M360.4,128.5h3M632.5,128.5h-3M360.4,149.5h3M632.5,149.5h-3M360.4,171.5h3M632.5,171.5h-3M360.4,192.5h3M632.5,192.5h-3M360.4,213.5h3M632.5,213.5h-3" class="tick"/>
<text x="357.90" y="23.00" text-anchor="end" class="tl">0</text>
<text x="357.90" y="44.41" text-anchor="end" class="tl">-5</text>
<text x="357.90" y="65.82" text-anchor="end" class="tl">-10</text>
<text x="357.90" y="87.23" text-anchor="end" class="tl">-15</text>
<text x="357.90" y="108.64" text-anchor="end" class="tl">-20</text>
<text x="357.90" y="130.05" text-anchor="end" class="tl">-25</text>
<text x="357.90" y="151.46" text-anchor="end" class="tl">-30</text>
<text x="357.90" y="172.87" text-anchor="end" class="tl">-35</text>
<text x="357.90" y="194.28" text-anchor="end" class="tl">-40</text>
<text x="357.90" y="215.69" text-anchor="end" class="tl">-45</text>
<text x="357.90" y="237.10" text-anchor="end" class="tl">-50</text>
<text x="353.65" y="247.20" class="tl">10</text>
<text x="362.15" y="243.50" class="ex">-1</text>
<text x="422.67" y="247.20" class="tl">10</text>
<text x="431.17" y="243.50" class="ex">0</text>
<text x="490.70" y="247.20" class="tl">10</text>
<text x="499.20" y="243.50" class="ex">1</text>
<text x="558.73" y="247.20" class="tl">10</text>
<text x="567.23" y="243.50" class="ex">2</text>
<text x="626.75" y="247.20" class="tl">10</text>
<text x="635.25" y="243.50" class="ex">3</text>
<text x="495.65" y="13.3" text-anchor="middle" class="tl82">100% Polyester</text>
<text x="495.15" y="257.40" text-anchor="middle" class="tl8">Frequency (Hz)</text>
<text transform="translate(340.00,129.05) rotate(-90)" text-anchor="middle" class="tl8">Gain (dB)</text>
<rect x="562.4" y="155.3" width="66.89999999999998" height="76.44999999999999" class="leg"/>
<path d="M567.30,163.30H591.60" class="l"/>
<circle cx="579.40" cy="163.30" r="2.2" class="m"/>
<text x="594.80" y="166.25" class="tl8">100 M<tspan class="om" dx="0.5" dy="1.0">Ω</tspan></text>
<path d="M567.30,175.50H591.60" class="l"/>
<path d="M579.40,172.90L582.20,177.30L576.60,177.30Z" class="m"/>
<text x="594.80" y="178.45" class="tl8">330 M<tspan class="om" dx="0.5" dy="1.0">Ω</tspan></text>
<path d="M567.30,187.50H591.60" class="l"/>
<rect x="577.10" y="185.20" width="4.6" height="4.6" class="m"/>
<text x="594.80" y="190.45" class="tl8">1 G<tspan class="om" dx="0.5" dy="1.0">Ω</tspan></text>
<path d="M567.30,199.30H591.60" class="lb"/>
<path d="M579.40,196.00L582.10,199.30L579.40,202.60L576.70,199.30Z" class="mb"/>
<text x="594.80" y="202.25" class="tl8">5 G<tspan class="om" dx="0.5" dy="1.0">Ω</tspan></text>
<path d="M567.30,212.40H591.60" class="l"/>
<polygon points="579.40,209.80 579.99,211.59 581.87,211.60 580.35,212.71 580.93,214.50 579.40,213.40 577.87,214.50 578.45,212.71 576.93,211.60 578.81,211.59" class="ms"/>
<text x="594.80" y="215.35" class="tl8">10 G<tspan class="om" dx="0.5" dy="1.0">Ω</tspan></text>
<path d="M567.30,224.60H591.60" class="l"/>
<path d="M577.40,221.60L582.10,224.60L577.40,227.60Z" class="m"/>
<text x="594.80" y="227.55" class="tl8">20 G<tspan class="om" dx="0.5" dy="1.0">Ω</tspan></text>
<text x="157.2" y="284.3" class="cap" style="letter-spacing:-1px">(a)</text>
<text x="479.2" y="284.3" class="cap">(b)</text>
</svg>
</body></html>
